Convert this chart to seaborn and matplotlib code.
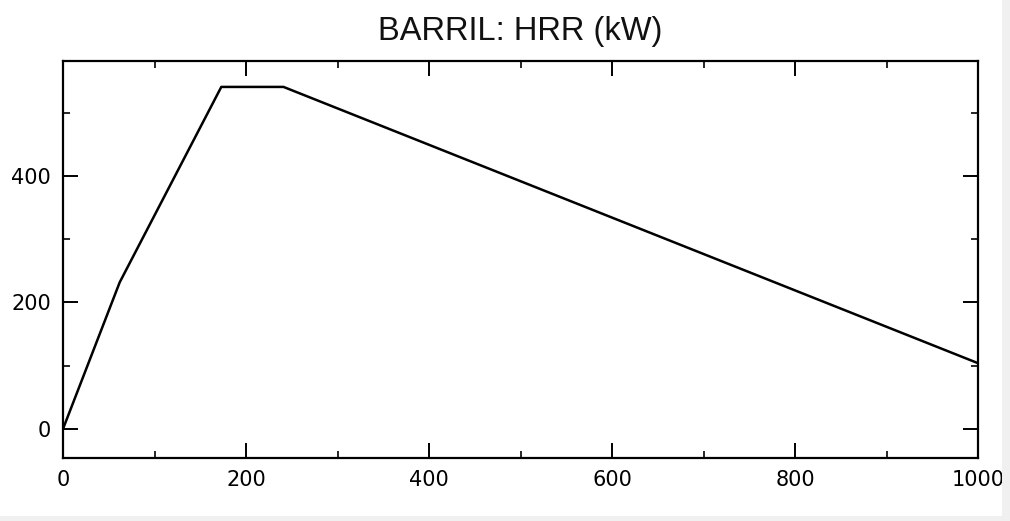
import matplotlib
matplotlib.use("Agg")
import matplotlib.pyplot as plt
from matplotlib.patches import Rectangle
from matplotlib.ticker import MultipleLocator
import seaborn as sns
import pandas as pd

time_s = [0, 62, 173, 241, 1000]
hrr_kw = [0, 232, 541, 541, 104]
title = "BARRIL: HRR (kW)"

sns.set_theme(style="white")
plt.rcParams['font.family'] = ['DejaVu Sans']

df = pd.DataFrame({"t": time_s, "hrr": hrr_kw})

fig = plt.figure(figsize=(10.10, 5.21), dpi=100)
fig.patch.set_facecolor("white")
ax = fig.add_axes([63/1010, 1 - 458/521, (978 - 63)/1010, (458 - 61)/521])
sns.lineplot(data=df, x="t", y="hrr", ax=ax, color="black", linewidth=1.8, sort=False)

ax.set_xlim(0, 1000)
ax.set_ylim(-46, 582)
ax.xaxis.set_major_locator(MultipleLocator(200))
ax.xaxis.set_minor_locator(MultipleLocator(100))
ax.yaxis.set_major_locator(MultipleLocator(200))
ax.yaxis.set_minor_locator(MultipleLocator(100))
ax.set_xlabel("")
ax.set_ylabel("")
for s in ax.spines.values():
    s.set_visible(True)
    s.set_color("black")
    s.set_linewidth(1.6)
ax.tick_params(which="major", direction="in", length=11, width=1.4,
               top=True, right=True, bottom=True, left=True,
               labelsize=15, colors="black", pad=8.5)
ax.tick_params(which="minor", direction="in", length=5, width=1.4,
               top=True, right=True, bottom=True, left=True)
ax.set_title(title, fontsize=23.5, family=['Liberation Sans', 'DejaVu Sans'], pad=15, color="#111111")

fig.patches.append(Rectangle((1002/1010, 0), 1, 1, transform=fig.transFigure,
                             facecolor="#f0f0f0", edgecolor="none", zorder=10))
fig.patches.append(Rectangle((0, 0), 1, 1 - 516/521, transform=fig.transFigure,
                             facecolor="#f0f0f0", edgecolor="none", zorder=10))

fig.savefig("out.png", dpi=100)
